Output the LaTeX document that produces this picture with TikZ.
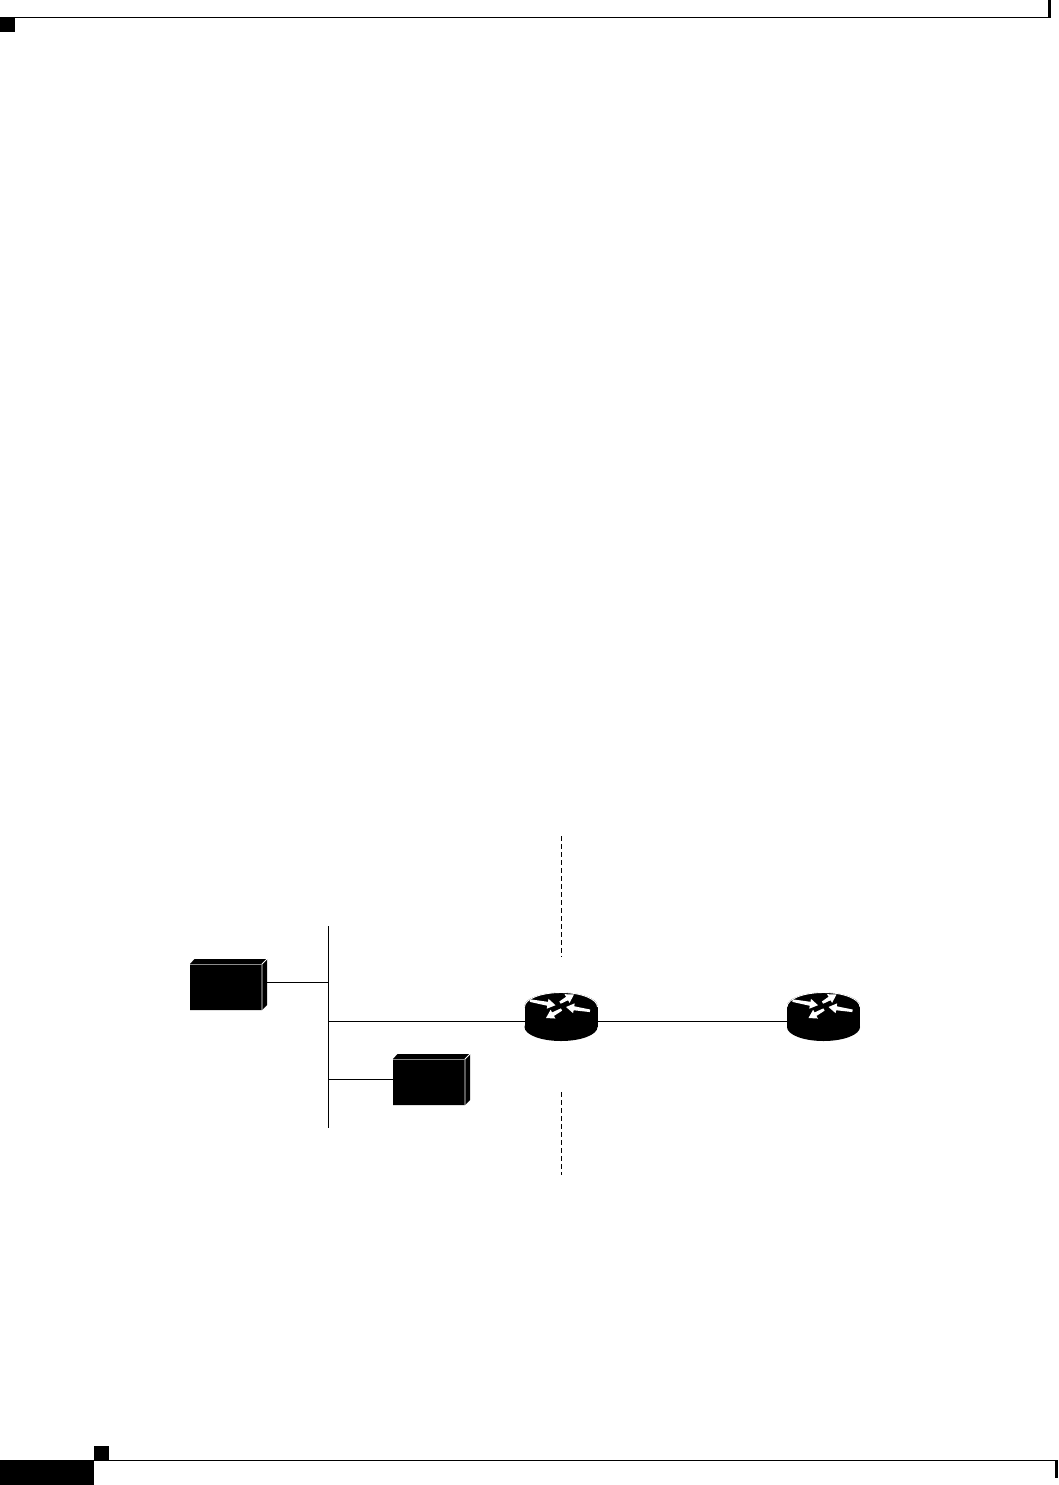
\documentclass[tikz,border=0pt]{standalone}
\usetikzlibrary{calc}
\tikzset{
  thinline/.style={black,line width=1pt},
  barrule/.style={black,line width=1.1pt},
  boundary/.style={black,line width=0.9pt,dash pattern=on 4.6pt off 3.4pt},
  flowfill/.style={fill=white,draw=none},
  anchorbox/.style={inner sep=0pt,outer sep=0pt,minimum width=#1,minimum height=0pt},
}
% tapered white arrow: tail (a), tip (b), head length #5
\newcommand{\flowarrow}[5]{%
  \coordinate (fa) at (#1,#2);
  \coordinate (fb) at (#3,#4);
  \coordinate (fc) at ($(fb)!#5pt!(fa)$);
  \fill[flowfill]
    ($(fa)!1.3pt!90:(fb)$) --
    ($(fc)!2pt!90:(fb)$) --
    ($(fc)!5pt!90:(fb)$) --
    (fb) --
    ($(fc)!5pt!-90:(fb)$) --
    ($(fc)!2pt!-90:(fb)$) --
    ($(fa)!1.3pt!-90:(fb)$) -- cycle;
}
\newcommand{\routerbody}[1]{%
  \fill[black] (#1,1006) ellipse [x radius=36.5,y radius=13.5];
  \fill[black] (#1-36.5,1006) rectangle (#1+36.5,1027);
  \fill[black] (#1,1027) ellipse [x radius=36.5,y radius=14];
  \draw[white,line width=0.9pt] (#1-36.5,1007) arc [start angle=180,end angle=360,x radius=36.5,y radius=14.5];
  \flowarrow{#1-31}{1000.6}{#1-5.5}{1005.2}{8}
  \flowarrow{#1+29}{1010.8}{#1+5}{1007}{8}
  \flowarrow{#1+0.5}{1009.5}{#1-15}{1018}{8}
  \flowarrow{#1-1}{1002.6}{#1+13}{994.5}{8}
}
\newcommand{\serverbody}[2]{%
  \fill[black] (#1,#2) -- (#1+4.5,#2-5) -- (#1+77,#2-5) -- (#1+77,#2+41) -- (#1+72,#2+46) -- (#1,#2+46) -- cycle;
  \draw[white,line width=0.9pt] (#1+72,#2+46) -- (#1+72,#2) -- (#1+77,#2-5);
  \draw[black!45,line width=0.9pt] (#1,#2) -- (#1+72,#2);
}
\begin{document}
\begin{tikzpicture}[x=1pt,y=-1pt]
\useasboundingbox (0,0) rectangle (1058,1485);
% page furniture
\fill[black] (0,17) rectangle (15,32);
\fill[black] (1048,0) rectangle (1051,17.5);
\draw[barrule] (15,17.2) -- (1051,17.2);
\fill[black] (0,1460) rectangle (94,1485);
\fill[black] (94,1446) rectangle (109,1460);
\fill[black] (1055,1460) rectangle (1058,1478);
\draw[barrule] (94,1460.4) -- (1058,1460.4);
% devices
\serverbody{190}{964}
\serverbody{393}{1059}
\routerbody{561}
\routerbody{823.5}
\node[anchorbox=77pt] (serverA) at (228.5,982.5) {};
\node[anchorbox=77pt] (serverB) at (431.5,1079.5) {};
\node[anchorbox=73pt] (routerA) at (561,1021.5) {};
\node[anchorbox=73pt] (routerB) at (823.5,1021.5) {};
% LAN bus
\coordinate (bustop) at (328.5,926);
\coordinate (busbot) at (328.5,1128);
\draw[thinline] (bustop) -- (busbot);
\draw[thinline] (serverA.east) -- (bustop |- serverA.east);
\draw[thinline] (routerA.west) -- (bustop |- routerA.west);
\draw[thinline] (serverB.west) -- (bustop |- serverB.west);
\draw[thinline] (routerA.east) -- (routerB.west);
% boundary
\coordinate (dashAtop) at (561.5,836);
\coordinate (dashAbot) at (561.5,957);
\coordinate (dashBtop) at (561.5,1092);
\coordinate (dashBbot) at (561.5,1175);
\draw[boundary] (dashAtop) -- (dashAbot);
\draw[boundary] (dashBtop) -- (dashBbot);
\end{tikzpicture}
\end{document}
